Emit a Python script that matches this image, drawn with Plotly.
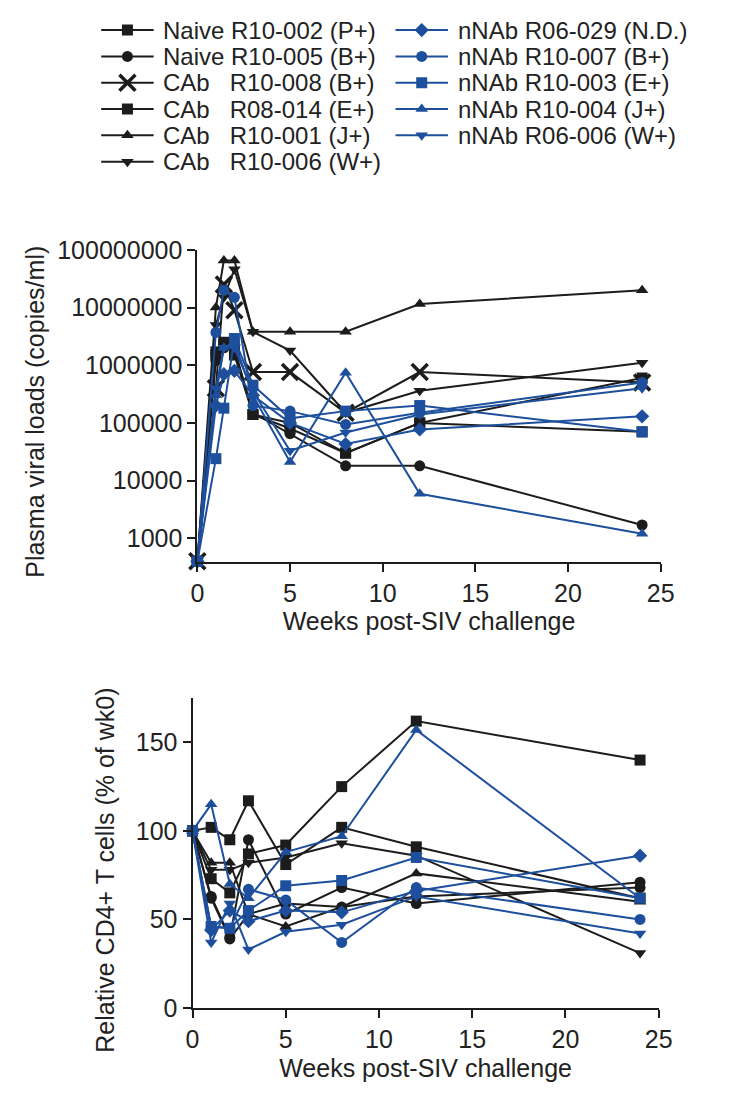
import plotly.graph_objects as go

# ---------------- data ----------------
names = [
    "Naive R10-002 (P+)", "Naive R10-005 (B+)", "CAb   R10-008 (B+)", "CAb   R08-014 (E+)",
    "CAb   R10-001 (J+)", "CAb   R10-006 (W+)",
    "nNAb R06-029 (N.D.)", "nNAb R10-007 (B+)", "nNAb R10-003 (E+)", "nNAb R10-004 (J+)",
    "nNAb R06-006 (W+)",
]
symbols = ["square", "circle", "x-thin", "square", "triangle-up", "triangle-down",
           "diamond", "circle", "square", "triangle-up", "triangle-down"]
# the CD4 panel of the reference shows round markers for R10-008
symbols_cd4 = ["square", "circle", "circle", "square", "triangle-up", "triangle-down",
               "diamond", "circle", "square", "triangle-up", "triangle-down"]
groups = ["k"] * 6 + ["b"] * 5

weeks_vl = [0, 1, 1.43, 2, 3, 5, 8, 12, 24]
viral_loads = [
    [400, 1.7e6, 2.3e6, 1.5e6, 1.4e5, 8e4, 3e4, 1e5, 6e5],
    [400, 1.2e6, 2e6, 1.8e6, 1.5e5, 6.5e4, 1.8e4, 1.8e4, 1.7e3],
    [400, 4e5, 2.5e7, 9e6, 7.6e5, 7.6e5, 1.5e5, 7.6e5, 5e5],
    [400, 1.5e6, 2.5e6, 2e6, 1.4e5, 1e5, 3e4, 1e5, 7e4],
    [400, 1e7, 6.5e7, 6.5e7, 3.8e6, 3.8e6, 3.8e6, 1.15e7, 2e7],
    [400, 5e6, 1.5e7, 4.6e7, 3.8e6, 1.8e6, 1.5e5, 3.6e5, 1.1e6],
    [400, 2e5, 7e5, 8e5, 3e5, 1e5, 4.3e4, 7.7e4, 1.3e5],
    [400, 3.7e6, 2e7, 1.5e7, 2e5, 1.6e5, 9.4e4, 1.5e5, 5e5],
    [400, 2.4e4, 1.8e5, 2.9e6, 4.5e5, 1.2e5, 1.6e5, 2e5, 7e4],
    [400, 3e5, 2e6, 2.5e6, 3e5, 2.1e4, 7.4e5, 5.9e3, 1.2e3],
    [400, 4e5, 2e6, 2e6, 3.5e5, 3.3e4, 6.8e4, 1.4e5, 4e5],
]

weeks_cd4 = [0, 1, 2, 3, 5, 8, 12, 24]
cd4_rel = [
    [100, 73, 65, 87, 92, 125, 162, 140],
    [100, 63, 40, 95, 53, 68, 59, 71],
    [100, 62, 39, 53, 59, 57, 63, 68],
    [100, 102, 95, 117, 81, 102, 91, 62],
    [100, 82, 82, 53, 46, 57, 76, 60],
    [100, 78, 78, 82, 85, 93, 86, 31],
    [100, 44, 55, 49, 55, 54, 66, 86],
    [100, 46, 45, 67, 61, 37, 68, 50],
    [100, 46, 45, 55, 69, 72, 85, 62],
    [100, 115, 70, 62, 88, 97, 157, 62],
    [100, 37, 59, 33, 43, 47, 63, 42],
]

x_ticks = [0, 5, 10, 15, 20, 25]
vl_ticks = [1e3, 1e4, 1e5, 1e6, 1e7, 1e8]
vl_tick_text = ["1000", "10000", "100000", "1000000", "10000000", "100000000"]
cd4_ticks = [0, 50, 100, 150]

# ---------------- style ----------------
BLACK = "#1c1c1c"
BLUE = "#1d4f9c"
TXT = "#222222"
FONT = "Liberation Sans, Arial, sans-serif"
FS = 25
LEG_FS = 24
W, H = 730, 1097

# legend layout (pixel units inside a dedicated legend axis)
LEG_H = 170
LEG_COL_X = {"k": 97, "b": 400}
LEG_ROW_Y0 = 16.5
LEG_ROW_DY = 27
LEG_SAMPLE_LEN = 54
LEG_TEXT_GAP = 9


def marker_style(sym, col):
    if sym == "x-thin":
        return dict(symbol=sym, size=16, color=col, line=dict(width=3.5, color=col))
    return dict(symbol=sym, size=11, color=col, line=dict(width=0))


fig = go.Figure()
annotations = []
row_in_group = {"k": 0, "b": 0}

for i, nm in enumerate(names):
    g = groups[i]
    col = BLACK if g == "k" else BLUE
    mk = marker_style(symbols[i], col)
    fig.add_trace(go.Scatter(
        x=weeks_vl, y=viral_loads[i], mode="lines+markers", name=nm,
        line=dict(color=col, width=2), marker=mk,
        xaxis="x", yaxis="y", showlegend=False, cliponaxis=False,
    ))
    fig.add_trace(go.Scatter(
        x=weeks_cd4, y=cd4_rel[i], mode="lines+markers", name=nm,
        line=dict(color=col, width=2), marker=marker_style(symbols_cd4[i], col),
        xaxis="x2", yaxis="y2", showlegend=False, cliponaxis=False,
    ))
    # legend entry
    r = row_in_group[g]
    row_in_group[g] += 1
    x0 = LEG_COL_X[g]
    x1 = x0 + LEG_SAMPLE_LEN
    yy = LEG_ROW_Y0 + r * LEG_ROW_DY
    fig.add_trace(go.Scatter(
        x=[x0, x1], y=[yy, yy], mode="lines", line=dict(color=col, width=2),
        xaxis="x3", yaxis="y3", showlegend=False, hoverinfo="skip",
    ))
    fig.add_trace(go.Scatter(
        x=[(x0 + x1) / 2], y=[yy], mode="markers", marker=mk,
        xaxis="x3", yaxis="y3", showlegend=False, hoverinfo="skip",
    ))
    annotations.append(dict(
        x=x1 + LEG_TEXT_GAP, y=yy, xref="x3", yref="y3", text=nm.replace(" ", "&nbsp;"),
        showarrow=False, xanchor="left", yanchor="middle", borderpad=0,
        font=dict(family=FONT, size=LEG_FS, color=TXT),
    ))

axis_common = dict(
    showline=True, linecolor=BLACK, linewidth=2, ticks="outside", ticklen=8,
    tickwidth=2, tickcolor=BLACK, showgrid=False, zeroline=False,
    tickfont=dict(family=FONT, size=FS, color=TXT),
)

# y-axis titles
annotations.append(dict(
    x=28 / W, y=(H - 408) / H, xref="paper", yref="paper",
    text="Plasma viral loads (copies/ml)", textangle=-90, showarrow=False,
    xanchor="center", yanchor="middle", font=dict(family=FONT, size=FS, color=TXT),
))
annotations.append(dict(
    x=100 / W, y=(H - 879) / H, xref="paper", yref="paper",
    text="Relative CD4+ T cells (% of wk0)", textangle=-90, showarrow=False,
    xanchor="center", yanchor="middle", font=dict(family=FONT, size=FS, color=TXT),
))

fig.update_layout(
    width=W, height=H, margin=dict(l=0, r=0, t=0, b=0),
    paper_bgcolor="white", plot_bgcolor="white",
    font=dict(family=FONT, color=TXT),
    showlegend=False,
    xaxis=dict(domain=[196 / W, 673 / W], range=[0, 25], tickvals=x_ticks,
               anchor="y", **axis_common,
               title=dict(text="Weeks post-SIV challenge", font=dict(size=FS), standoff=4)),
    yaxis=dict(domain=[(H - 562) / H, (H - 242) / H], type="log",
               range=[2.595, 8.0], tickvals=vl_ticks, ticktext=vl_tick_text,
               anchor="x", **axis_common),
    xaxis2=dict(domain=[191 / W, 671 / W], range=[0, 25], tickvals=x_ticks,
                anchor="y2", **axis_common,
                title=dict(text="Weeks post-SIV challenge", font=dict(size=FS), standoff=8)),
    yaxis2=dict(domain=[(H - 1020) / H, (H - 702) / H], range=[0, 175],
                tickvals=cd4_ticks, anchor="x2", **axis_common),
    xaxis3=dict(domain=[0, 1], range=[0, W], visible=False, fixedrange=True),
    yaxis3=dict(domain=[(H - LEG_H) / H, 1], range=[LEG_H, 0], visible=False,
                fixedrange=True, anchor="x3"),
    annotations=annotations,
)

fig.write_html("out.html")
